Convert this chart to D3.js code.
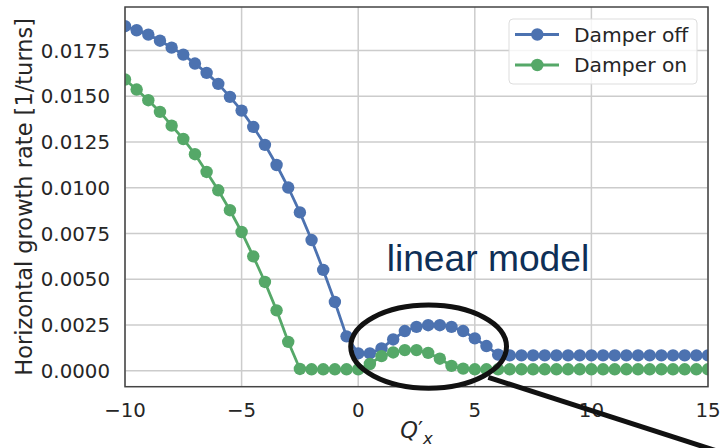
<!DOCTYPE html>
<html>
<head>
<meta charset="utf-8">
<script src="https://cdn.jsdelivr.net/npm/d3@7"></script>
<style>
  html, body { margin: 0; padding: 0; background: #fff; }
  svg { display: block; font-family: "DejaVu Sans", sans-serif; }
</style>
</head>
<body>
<div id="chart"></div>
<script>
// chromaticity values Q'x
const qx = [
  -10, -9.5, -9, -8.5, -8, -7.5, -7, -6.5, -6, -5.5,
  -5, -4.5, -4, -3.5, -3, -2.5, -2, -1.5, -1, -0.5,
  0, 0.5, 1, 1.5, 2, 2.5, 3, 3.5, 4, 4.5,
  5, 5.5, 6, 6.5, 7, 7.5, 8, 8.5, 9, 9.5,
  10, 10.5, 11, 11.5, 12, 12.5, 13, 13.5, 14, 14.5, 15
];

// growth rate, damper off
const damperOff = [
  0.01882, 0.01860, 0.01836, 0.01803, 0.01765, 0.01727, 0.01678, 0.01627, 0.01567, 0.01496,
  0.01421, 0.01332, 0.01234, 0.01124, 0.01001, 0.00865, 0.00714, 0.00551, 0.00376, 0.00188,
  0.00095, 0.00095, 0.00122, 0.00171, 0.00217, 0.00240, 0.00249, 0.00249, 0.00240, 0.00217,
  0.00177, 0.00135, 0.00088, 0.00084, 0.00084, 0.00084, 0.00084, 0.00084, 0.00084, 0.00084,
  0.00084, 0.00084, 0.00084, 0.00084, 0.00084, 0.00084, 0.00084, 0.00084, 0.00084, 0.00084, 0.00084
];

// growth rate, damper on
const damperOn = [
  0.01591, 0.01536, 0.01478, 0.01414, 0.01339, 0.01266, 0.01183, 0.01086, 0.00986, 0.00877,
  0.00758, 0.00625, 0.00485, 0.00330, 0.00158, 0.00010, 0.00008, 0.00008, 0.00008, 0.00008,
  0.00008, 0.00037, 0.00080, 0.00100, 0.00113, 0.00113, 0.00098, 0.00066, 0.00027, 0.00012,
  0.00008, 0.00008, 0.00008, 0.00008, 0.00008, 0.00008, 0.00008, 0.00008, 0.00008, 0.00008,
  0.00008, 0.00008, 0.00008, 0.00008, 0.00008, 0.00008, 0.00008, 0.00008, 0.00008, 0.00008, 0.00008
];

const seriesNames = ["Damper off", "Damper on"];
const xTicks = [-10, -5, 0, 5, 10, 15];
const yTicks = [0, 0.0025, 0.005, 0.0075, 0.01, 0.0125, 0.015, 0.0175];

(() => {
    const W = 720, H = 448;
    const plot = { left: 125, right: 708, top: 7, bottom: 386.7 };
    const colors = ["#4c72b0", "#55a868"];

    const x = d3.scaleLinear().domain([-10, 15]).range([plot.left, plot.right]);
    const y = d3.scaleLinear().domain([-0.00087, 0.01987]).range([plot.bottom, plot.top]);

    const svg = d3.select("#chart").append("svg")
        .attr("width", W).attr("height", H);

    svg.append("defs").append("clipPath").attr("id", "clip")
        .append("rect")
        .attr("x", plot.left).attr("y", plot.top)
        .attr("width", plot.right - plot.left)
        .attr("height", plot.bottom - plot.top);

    // grid
    const grid = svg.append("g").attr("stroke", "#cccccc").attr("stroke-width", 1.5);
    grid.selectAll("line.gx").data(xTicks).enter().append("line")
        .attr("x1", d => x(d)).attr("x2", d => x(d))
        .attr("y1", plot.top).attr("y2", plot.bottom);
    grid.selectAll("line.gy").data(yTicks).enter().append("line")
        .attr("y1", d => y(d)).attr("y2", d => y(d))
        .attr("x1", plot.left).attr("x2", plot.right);

    // series
    const series = [damperOff, damperOn].map((vals, i) => ({
        name: seriesNames[i],
        color: colors[i],
        points: qx.map((q, j) => ({ q: q, v: vals[j] }))
    }));

    const line = d3.line().x(d => x(d.q)).y(d => y(d.v));
    const plotG = svg.append("g").attr("clip-path", "url(#clip)");

    series.forEach(s => {
        const g = plotG.append("g");
        g.append("path")
            .attr("d", line(s.points))
            .attr("fill", "none")
            .attr("stroke", s.color)
            .attr("stroke-width", 2.8);
        g.selectAll("circle").data(s.points).enter().append("circle")
            .attr("cx", d => x(d.q))
            .attr("cy", d => y(d.v))
            .attr("r", 6.2)
            .attr("fill", s.color);
    });

    // spines
    svg.append("rect")
        .attr("x", plot.left).attr("y", plot.top)
        .attr("width", plot.right - plot.left)
        .attr("height", plot.bottom - plot.top)
        .attr("fill", "none")
        .attr("stroke", "#444")
        .attr("stroke-width", 1.5);

    // tick labels
    const fmtX = d => d < 0 ? "\u2212" + Math.abs(d) : String(d);
    svg.append("g").selectAll("text").data(xTicks).enter().append("text")
        .attr("x", d => x(d))
        .attr("y", 416.5)
        .attr("text-anchor", "middle")
        .attr("font-size", 19.8)
        .attr("fill", "#262626")
        .text(fmtX);

    svg.append("g").selectAll("text").data(yTicks).enter().append("text")
        .attr("x", plot.left - 15)
        .attr("y", d => y(d))
        .attr("dy", "0.36em")
        .attr("text-anchor", "end")
        .attr("font-size", 19.8)
        .attr("fill", "#262626")
        .text(d => d3.format(".4f")(d));

    // axis labels
    svg.append("text")
        .attr("transform", `translate(32, ${(plot.top + plot.bottom) / 2}) rotate(-90)`)
        .attr("text-anchor", "middle")
        .attr("font-size", 22.5)
        .attr("fill", "#262626")
        .text("Horizontal growth rate [1/turns]");

    const xl = svg.append("text")
        .attr("x", (plot.left + plot.right) / 2)
        .attr("y", 438)
        .attr("text-anchor", "middle")
        .attr("font-size", 22.5)
        .attr("fill", "#262626");
    xl.append("tspan").attr("font-style", "italic").text("Q");
    xl.append("tspan").text("\u2032");
    xl.append("tspan").attr("font-style", "italic").attr("font-size", 16.5)
        .attr("dy", 6).text("x");

    // legend
    const lg = svg.append("g");
    lg.append("rect")
        .attr("x", 509).attr("y", 19).attr("width", 188).attr("height", 65)
        .attr("rx", 4)
        .attr("fill", "#fff").attr("fill-opacity", 0.8)
        .attr("stroke", "#dddddd").attr("stroke-width", 1);
    series.forEach((s, i) => {
        const cy = 34.5 + i * 30.5;
        lg.append("line")
            .attr("x1", 515).attr("x2", 559).attr("y1", cy).attr("y2", cy)
            .attr("stroke", s.color).attr("stroke-width", 2.8);
        lg.append("circle").attr("cx", 537.3).attr("cy", cy).attr("r", 6.2).attr("fill", s.color);
        lg.append("text")
            .attr("x", 574).attr("y", cy).attr("dy", "0.36em")
            .attr("font-size", 20.3).attr("fill", "#262626")
            .text(s.name);
    });

    // annotations (data coordinates)
    const note = { q: 1.22, v: 0.00546, text: "linear model" };
    const ring = { q: 3.02, v: 0.00132, rq: 3.34, rv: 0.00227 };
    const pointer = { q1: 5.58, v1: -0.00036, q2: 16.4, v2: -0.0048 };

    svg.append("text")
        .attr("x", x(note.q)).attr("y", y(note.v))
        .attr("font-family", "'Liberation Sans', Arial, sans-serif")
        .attr("font-size", 37.2)
        .attr("fill", "#0e2f56")
        .text(note.text);

    svg.append("ellipse")
        .attr("cx", x(ring.q)).attr("cy", y(ring.v))
        .attr("rx", x(ring.q + ring.rq) - x(ring.q))
        .attr("ry", y(0) - y(ring.rv))
        .attr("fill", "none")
        .attr("stroke", "#111")
        .attr("stroke-width", 5);

    svg.append("line")
        .attr("x1", x(pointer.q1)).attr("y1", y(pointer.v1))
        .attr("x2", x(pointer.q2)).attr("y2", y(pointer.v2))
        .attr("stroke", "#111")
        .attr("stroke-width", 5);
})();
</script>
</body>
</html>
